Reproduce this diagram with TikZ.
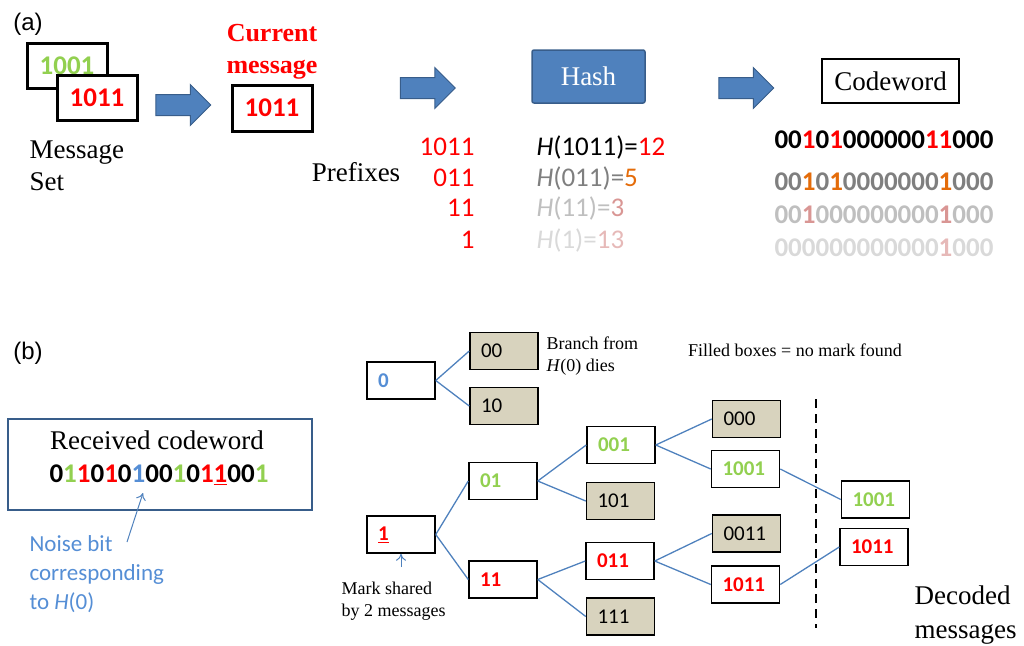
\documentclass[tikz,border=0pt]{standalone}
\usepackage{fontspec}
\setmainfont{Liberation Serif}
\newfontfamily\calib{Carlito}
\newfontfamily\arialf{Liberation Sans}
\usetikzlibrary{arrows.meta,
                positioning,
                shapes.arrows}
\definecolor{bitred}{HTML}{FF0000}
\definecolor{bitgreen}{HTML}{92D050}
\definecolor{bitblue}{HTML}{558ED5}
\definecolor{hashblue}{HTML}{4F81BD}
\definecolor{hashedge}{HTML}{385D8A}
\definecolor{deadfill}{HTML}{D8D3BE}
\definecolor{orng}{HTML}{E46C0A}
\definecolor{grayA}{HTML}{7F7F7F}
\definecolor{grayB}{HTML}{BFBFBF}
\definecolor{grayC}{HTML}{D9D9D9}
\definecolor{pinkA}{HTML}{D99694}
\definecolor{pinkB}{HTML}{E6B9B8}
\newcommand{\rd}[1]{\textcolor{bitred}{#1}}
\newcommand{\gn}[1]{\textcolor{bitgreen}{#1}}
\newcommand{\bl}[1]{\textcolor{bitblue}{#1}}
\newcommand{\bigsans}{\calib\fontsize{27}{30}\selectfont}
\newcommand{\bigserif}{\fontsize{27}{32}\selectfont}
\newcommand{\smallserif}{\fontsize{18}{22}\selectfont}
\tikzset{
        msgbox/.style={draw, line width=3pt, fill=white, minimum width=80pt,
                       minimum height=45pt, font=\bigsans\bfseries},
        bigarrow/.style={single arrow, draw=hashedge, fill=hashblue,
                         line width=1pt, minimum height=55pt, minimum width=40pt,
                         inner xsep=0pt, inner ysep=10pt,
                         single arrow head extend=10pt},
        tbox/.style={draw, line width=1.5pt, fill=white, minimum height=37pt,
                     text width=46pt, inner xsep=11pt, align=left,
                     font=\calib\fontsize{21}{25}\selectfont\bfseries},
        deadbox/.style={tbox, fill=deadfill,
                        font=\calib\fontsize{21}{25}\selectfont},
        link/.style={draw=hashblue, line width=1.3pt},
        pointer/.style={-{To[length=7pt,width=10pt]}, draw=hashblue, line width=1pt},
 }
\begin{document}
\begin{tikzpicture}[x=1pt, y=-1pt]
    \useasboundingbox (0,0) rectangle (1024,645);
    % (a) encoding
    \node[font=\arialf\fontsize{24}{28}\selectfont] (la) at (28,24) {(a)};
    \node[msgbox] (back) at (67,65.5) {\gn{1001}};
    \node[msgbox] (front) at (97,97.5) {\rd{1011}};
    \node[anchor=west, align=left, font=\bigserif] (set) at (26,166) {Message\\Set};
    \node[bigarrow] (arr1) at (178,105) {};
    \node[msgbox, minimum height=46pt] (cur) at (272,108) {\rd{1011}};
    \node[above=1pt of cur, align=center, text=bitred,
          font=\fontsize{26}{32}\selectfont\bfseries] (curlab) {Current\\message};
    \node[font=\bigserif] (pre) at (356,172) {Prefixes};
    \node[bigarrow] (arr2) at (422.5,88) {};
    \node[draw=hashedge, fill=hashblue, line width=1.5pt, rounded corners=2pt,
          minimum width=113pt, minimum height=53pt, text=white,
          font=\bigserif] (hash) at (588.5,76.5) {Hash};
    \node[bigarrow] (arr3) at (741,88) {};
    \node[draw, line width=1.5pt, minimum width=137pt, minimum height=44pt,
          font=\bigserif] (code) at (890.5,81) {Codeword};

    \foreach \p/\y in {1011/147, 011/178, 11/208, 1/240}
        \node[anchor=east, text=bitred, font=\bigsans] (p\p) at (478,\y) {\p};
    \node[anchor=west, font=\bigsans] (h1) at (533,147)
        {\textit{H}(1011)=\rd{12}};
    \node[anchor=west, font=\bigsans, text=grayA] (h2) at (533,178)
        {\textit{H}(011)=\textcolor{orng}{5}};
    \node[anchor=west, font=\bigsans, text=grayB] (h3) at (533,208)
        {\textit{H}(11)=\textcolor{pinkA}{3}};
    \node[anchor=west, font=\bigsans, text=grayC] (h4) at (533,240)
        {\textit{H}(1)=\textcolor{pinkB}{13}};

    \node[anchor=east, font=\bigsans\bfseries] (c1) at (997,140)
        {00\rd{1}0\rd{1}000000\rd{11}000};
    \node[anchor=east, font=\bigsans\bfseries, text=grayA] (c2) at (997,182)
        {00\textcolor{orng}{1}0\textcolor{orng}{1}0000000\textcolor{orng}{1}000};
    \node[anchor=east, font=\bigsans\bfseries, text=grayB] (c3) at (997,215)
        {00\textcolor{pinkA}{1}000000000\textcolor{pinkA}{1}000};
    \node[anchor=east, font=\bigsans\bfseries, text=grayC] (c4) at (997,248)
        {000000000000\textcolor{pinkB}{1}000};

    % (b) decoding
    \node[font=\arialf\fontsize{24}{28}\selectfont] (lb) at (28,353) {(b)};
    \node[draw=hashedge, line width=2.5pt, minimum width=304pt,
          minimum height=91pt] (recv) at (160,464.5) {};
    \node[font=\bigserif] (recvlab) at (157,440) {Received codeword};
    \node[font=\bigsans\bfseries] (recvbits) at (159,475)
        {0\gn{1}\rd{1}0\rd{1}0\bl{1}00\gn{1}0\rd{1}\rd{\underline{1}}00\gn{1}};
    \node[anchor=west, align=left, text=bitblue,
          font=\calib\fontsize{23}{29}\selectfont] (noise) at (26,574)
        {Noise bit\\corresponding\\to \textit{H}(0)};
    \coordinate (noisetail) at (127,542);
    \coordinate (noisebit) at (143,493);
    \draw[pointer] (noisetail) -- (noisebit);

    % decoding tree
    \node[tbox] (n0) at (401,380.5) {\bl{0}};
    \node[deadbox] (n00) at (504,351) {00};
    \node[deadbox] (n10) at (504,406) {10};
    \node[tbox] (n1) at (401,534.5) {\rd{\underline{1}}};
    \node[tbox] (n01) at (503,481) {\gn{01}};
    \node[tbox] (n11) at (503,579.5) {\rd{11}};
    \node[tbox] (n001) at (621,445) {\gn{001}};
    \node[deadbox] (n101) at (620.5,501) {101};
    \node[tbox] (n011) at (620,561) {\rd{011}};
    \node[deadbox] (n111) at (620.5,616.5) {111};
    \node[deadbox] (n000) at (746.5,419) {000};
    \node[tbox] (n1001) at (745.5,469) {\gn{1001}};
    \node[deadbox] (n0011) at (746.5,533.5) {0011};
    \node[tbox] (n1011) at (745.5,584.5) {\rd{1011}};
    \node[tbox] (d1001) at (875.5,499.5) {\gn{1001}};
    \node[tbox] (d1011) at (874,547) {\rd{1011}};

    \foreach \a/\b in {n0/n00, n0/n10, n1/n01, n1/n11, n01/n001, n01/n101,
                       n11/n011, n11/n111, n001/n000, n001/n1001,
                       n011/n0011, n011/n1011, n1001/d1001, n1011/d1011}
        \draw[link] (\a.east) -- (\b.west);

    \node[anchor=west, align=left, font=\smallserif] (dies) at (543,356)
        {Branch from\\\textit{H}(0) dies};
    \node[font=\smallserif] (filled) at (795,350) {Filled boxes = no mark found};
    \node[anchor=west, align=left, font=\smallserif] (mark) at (338,601)
        {Mark shared\\by 2 messages};
    \coordinate (marktail) at (401,567);
    \draw[pointer] (marktail) -- (n1.south);

    \coordinate (cuttop) at (816,399);
    \coordinate (cutbot) at (816,628);
    \draw[line width=2pt, dash pattern=on 9pt off 6pt] (cuttop) -- (cutbot);
    \node[anchor=west, align=left, font=\fontsize{27}{34}\selectfont] (dec)
        at (911,615) {Decoded\\messages};
\end{tikzpicture}
\end{document}
